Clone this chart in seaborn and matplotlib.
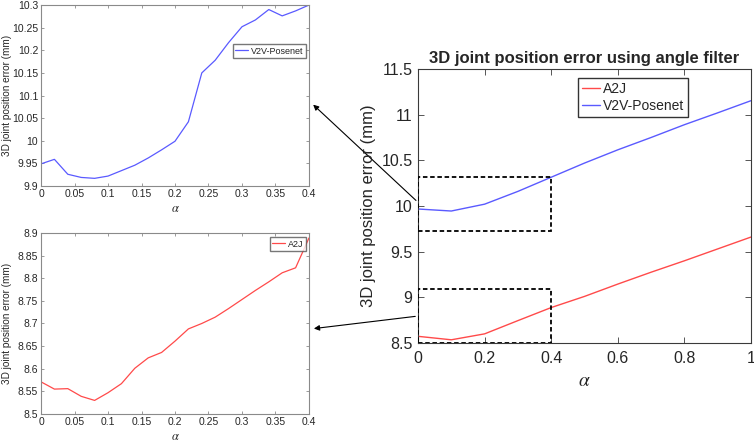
import matplotlib
matplotlib.use('Agg')
import matplotlib.pyplot as plt
from matplotlib.patches import Rectangle
from matplotlib.ticker import FuncFormatter
import seaborn as sns
import pandas as pd
import numpy as np

# 主图数据 (alpha 0..1, 步长 0.1)
alpha_main = [0.0, 0.1, 0.2, 0.3, 0.4, 0.5, 0.6, 0.7, 0.8, 0.9, 1.0]
a2j_main = [8.573, 8.535, 8.60, 8.745, 8.888, 9.01, 9.145, 9.275, 9.40, 9.53, 9.66]
v2v_main = [9.967, 9.945, 10.02, 10.16, 10.315, 10.47, 10.615, 10.75, 10.89, 11.02, 11.153]

# 放大图数据 (alpha 0..0.4, 步长 0.02)
alpha_zoom = [0.0, 0.02, 0.04, 0.06, 0.08, 0.10, 0.12, 0.14, 0.16, 0.18, 0.20,
              0.22, 0.24, 0.26, 0.28, 0.30, 0.32, 0.34, 0.36, 0.38, 0.40]
v2v_zoom = [9.949, 9.959, 9.926, 9.919, 9.917, 9.922, 9.934, 9.946, 9.962, 9.980, 9.999,
            10.042, 10.150, 10.178, 10.217, 10.252, 10.267, 10.290, 10.276, 10.287, 10.300]
a2j_zoom = [8.571, 8.555, 8.556, 8.539, 8.530, 8.547, 8.567, 8.601, 8.624, 8.636, 8.661,
            8.688, 8.700, 8.714, 8.733, 8.753, 8.773, 8.792, 8.812, 8.823, 8.889]

RED = '#ff4a4a'
BLUE = '#5a5aff'

sns.set_theme(style='ticks')
plt.rcParams['font.family'] = ['Liberation Sans', 'DejaVu Sans']
plt.rcParams['mathtext.fontset'] = 'stix'

fmt = FuncFormatter(lambda v, p: '%g' % round(v, 4))


def style_axes(ax, edge, size, ticklen, pad=3):
    for s in ax.spines.values():
        s.set_color(edge)
        s.set_linewidth(0.8)
    ax.tick_params(direction='in', top=True, right=True, length=ticklen,
                   width=0.6, color=edge, labelsize=size, pad=pad)
    ax.xaxis.set_major_formatter(fmt)
    ax.yaxis.set_major_formatter(fmt)


fig = plt.figure(figsize=(7.54, 4.44), dpi=100)

# 上方放大图 V2V-Posenet
ax1 = fig.add_axes([0.0544, 0.581, 0.3554, 0.4077])
df1 = pd.DataFrame({'alpha': alpha_zoom, 'err': v2v_zoom})
sns.lineplot(data=df1, x='alpha', y='err', ax=ax1, color=BLUE, lw=0.9, label='V2V-Posenet')
ax1.set_xlim(0, 0.4)
ax1.set_ylim(9.9, 10.3)
ax1.set_xticks(np.arange(0, 0.401, 0.05))
ax1.set_yticks(np.arange(9.9, 10.301, 0.05))
style_axes(ax1, '#8a8a8a', 7.5, 2.5, pad=2)
ax1.set_xlabel(r'$\alpha$', fontsize=9, labelpad=3)
ax1.set_ylabel('3D joint position error (mm)', fontsize=7.2)
ax1.yaxis.set_label_coords(-0.11, 0.5)
ax1.legend(loc='upper right', bbox_to_anchor=(0.989, 0.785), fontsize=6.5, frameon=True,
           fancybox=False, edgecolor='#555555', handlelength=1.4, borderpad=0.3,
           borderaxespad=0, handletextpad=0.3)

# 下方放大图 A2J
ax2 = fig.add_axes([0.0544, 0.0676, 0.3554, 0.4077])
df2 = pd.DataFrame({'alpha': alpha_zoom, 'err': a2j_zoom})
sns.lineplot(data=df2, x='alpha', y='err', ax=ax2, color=RED, lw=0.9, label='A2J')
ax2.set_xlim(0, 0.4)
ax2.set_ylim(8.5, 8.9)
ax2.set_xticks(np.arange(0, 0.401, 0.05))
ax2.set_yticks(np.arange(8.5, 8.901, 0.05))
style_axes(ax2, '#8a8a8a', 7.5, 2.5, pad=2)
ax2.set_xlabel(r'$\alpha$', fontsize=9, labelpad=3)
ax2.set_ylabel('3D joint position error (mm)', fontsize=7.2)
ax2.yaxis.set_label_coords(-0.11, 0.5)
ax2.legend(loc='upper right', bbox_to_anchor=(0.989, 0.978), fontsize=6.5, frameon=True,
           fancybox=False, edgecolor='#555555', handlelength=1.4, borderpad=0.3,
           borderaxespad=0, handletextpad=0.3)

# 主图
ax = fig.add_axes([0.5544, 0.2275, 0.4416, 0.6171])
dfm = pd.DataFrame({
    'alpha': alpha_main * 2,
    'err': a2j_main + v2v_main,
    'method': ['A2J'] * len(alpha_main) + ['V2V-Posenet'] * len(alpha_main),
})
sns.lineplot(data=dfm, x='alpha', y='err', hue='method', ax=ax,
             palette={'A2J': RED, 'V2V-Posenet': BLUE}, lw=1.0)
ax.set_xlim(0, 1)
ax.set_ylim(8.5, 11.5)
ax.set_xticks(np.arange(0, 1.001, 0.2))
ax.set_yticks(np.arange(8.5, 11.501, 0.5))
style_axes(ax, '#3a3a3a', 11.5, 4, pad=4)
ax.tick_params(axis='x', pad=6)
ax.set_xlabel(r'$\alpha$', fontsize=14, labelpad=5)
ax.set_ylabel('3D joint position error (mm)', fontsize=12, labelpad=4)
ax.set_title('3D joint position error using angle filter', fontsize=12, fontweight='bold', pad=4)
ax.legend(loc='upper left', bbox_to_anchor=(0.48, 0.967), fontsize=10, frameon=True,
          fancybox=False, edgecolor='#333333', handlelength=1.3, borderpad=0.3,
          borderaxespad=0, handletextpad=0.2, labelspacing=0.2, framealpha=1)

# 虚线框
ax.add_patch(Rectangle((0, 9.726), 0.4, 0.596, fill=False, ls=(0, (2.5, 1.5)), lw=1.3, ec='black', zorder=5))
ax.add_patch(Rectangle((0, 8.5), 0.4, 0.593, fill=False, ls=(0, (2.5, 1.5)), lw=1.3, ec='black', zorder=5))

# 箭头
ax1.annotate('', xy=(1.008, 0.46), xycoords='axes fraction',
             xytext=(0, 10.04), textcoords=ax.transData,
             arrowprops=dict(arrowstyle='-|>', color='black', lw=0.8, mutation_scale=8))
ax2.annotate('', xy=(1.008, 0.47), xycoords='axes fraction',
             xytext=(0, 8.795), textcoords=ax.transData,
             arrowprops=dict(arrowstyle='-|>', color='black', lw=0.8, mutation_scale=8))

fig.savefig('out.png', dpi=100)
